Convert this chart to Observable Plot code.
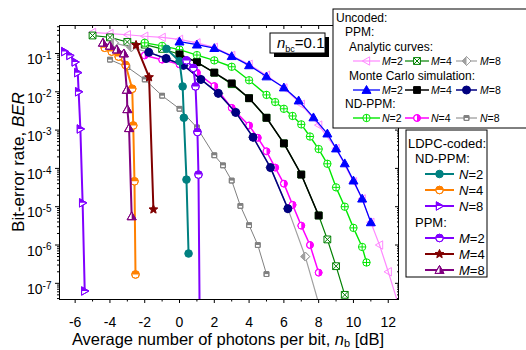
<!DOCTYPE html>
<html><head><meta charset="utf-8">
<script src="https://cdn.jsdelivr.net/npm/d3@7"></script>
<script src="https://cdn.jsdelivr.net/npm/@observablehq/plot@0.6"></script>
<style>body{margin:0;background:#fff} svg{display:block}</style>
</head><body><div id="chart"></div>
<script>
// ---------- data (x: average photons per bit in dB, ber: bit-error rate) ----------
// Uncoded PPM, analytic curves
const anaM2_x = [-5,-4,-3,-2,-1,0,1,2,3,4,5,6,7,8,9,10,10.5,11,11.5,12,12.75];
const anaM2_ber = [0.355,0.331,0.309,0.282,0.263,0.234,0.19,0.145,0.089,0.052,0.027,0.0126,4.7e-3,1.35e-3,3.3e-4,4.5e-5,1.6e-5,3.9e-6,1.0e-6,2.0e-7,1.6e-8];
const anaM4_x = [-5,-4,-3,-2,-1,0,1,2,3,4,5,6,7,8,8.5,9,9.5];
const anaM4_ber = [0.295,0.263,0.2,0.17,0.132,0.0955,0.06,0.0316,0.0158,6.8e-3,2.1e-3,4.5e-4,6.9e-5,5.9e-6,1.4e-6,2.8e-7,5.0e-8];
const anaM8_x = [-3.77,-2.77,-1.77,-0.77,0.23,1.23,2.23,3.23,4.23,5.23,6.23,7.23,8.23];
const anaM8_ber = [0.19,0.145,0.107,0.074,0.049,0.021,9.1e-3,2.9e-3,6.5e-4,1.05e-4,8.9e-6,5.0e-7,1.3e-8];
// Uncoded PPM, Monte Carlo simulation
const mcM2_x = [0,1,2,3,4,5,6,6.85,7.7,8.5,9,9.5,10,10.5,11];
const mcM2_ber = [0.204,0.17,0.138,0.085,0.049,0.0251,0.0129,5.9e-3,2.14e-3,8.1e-4,3.3e-4,1.35e-4,4.8e-5,1.62e-5,3.9e-6];
const mcM4_x = [0,1,2,3,4,5,6,7,8];
const mcM4_ber = [0.095,0.059,0.0316,0.0166,6.8e-3,2.1e-3,4.5e-4,6.9e-5,5.9e-6];
const mcM8_x = [-1.77,-0.77,0.23,1.23,2.23,3.23,4.23,5.23,6.23];
const mcM8_ber = [0.107,0.074,0.049,0.021,9.1e-3,2.9e-3,6.5e-4,1.05e-4,8.9e-6];
// Uncoded ND-PPM
const ndN2_x = [-2,-1,0,1,2,3,4,5,5.5,6,6.5,7,7.5,8,8.5,9,9.5,10,10.5,10.75];
const ndN2_ber = [0.19,0.158,0.126,0.091,0.066,0.045,0.02,8.3e-3,5.4e-3,3.6e-3,2.34e-3,1.41e-3,6.8e-4,3.2e-4,1.32e-4,3.2e-5,1.0e-5,2.8e-6,8.9e-7,3.5e-7];
const ndN4_x = [-2,-1,0,1,2,3,4,4.5,5,5.5,6,6.5,7,7.5,8];
const ndN4_ber = [0.089,0.069,0.052,0.0316,0.0141,3.8e-3,1.32e-3,6.3e-4,2.8e-4,1.05e-4,4.0e-5,1.12e-5,3.2e-6,1.0e-6,1.9e-7];
const ndN8_x = [-4,-3,-2,-1,0,1,2,2.5,3,3.5,4,4.5,5];
const ndN8_ber = [0.069,0.044,0.021,7.9e-3,3.6e-3,1.17e-3,2.2e-4,1.2e-4,4.8e-5,1.05e-5,3.3e-6,1.0e-6,1.74e-7];
// LDPC-coded ND-PPM
const ldN2_x = [-0.75,0,0.18,0.25,0.4,0.52];
const ldN2_ber = [0.132,0.063,0.0138,2.1e-3,5.1e-5,6.0e-7];
const ldN4_x = [-4.3,-3.9,-3.5,-3.1,-2.72,-2.66,-2.59,-2.53];
const ldN4_ber = [0.141,0.112,0.083,0.05,0.012,1.32e-3,4.6e-5,1.7e-7];
const ldN8_x = [-6.6,-6.3,-6.0,-5.85,-5.8,-5.7,-5.57,-5.45];
const ldN8_ber = [0.112,0.089,0.06,0.0316,0.01,1.07e-3,1.26e-5,6.3e-8];
// LDPC-coded PPM
const ldM2_x = [0.4,0.8,0.92,1.03,1.09,1.16];
const ldM2_ber = [0.066,0.042,0.0138,8.9e-4,6.9e-5,1e-8];
const ldM4_x = [-2.5,-1.75,-1.5];
const ldM4_ber = [0.166,0.024,8.5e-6];
const ldM8_x = [-4.4,-4.0,-3.6,-3.2,-3.03,-3.0,-2.9,-2.75];
const ldM8_ber = [0.19,0.158,0.126,0.1,0.0112,3.5e-3,1.12e-3,5.6e-6];

// axis ticks
const xMajor = [-6,-4,-2,0,2,4,6,8,10,12];
const xMinor = [-5,-3,-1,1,3,5,7,9,11];
const yMajor = [1e-7,1e-6,1e-5,1e-4,1e-3,1e-2,1e-1];
const yMinorMult = [2,3,4,5,6,7,8,9];
const yDecades = [1e-8,1e-7,1e-6,1e-5,1e-4,1e-3,1e-2,1e-1];

// ---------- symbols ----------
const S = f => ({draw(c, size){ f(c, Math.sqrt(size/Math.PI)); }});
const circle = S((c,r)=>{c.moveTo(r,0); c.arc(0,0,r,0,2*Math.PI); c.closePath();});
const circTop = S((c,r)=>{c.moveTo(r,0); c.arc(0,0,r,0,Math.PI,true); c.closePath();});
const circRight = S((c,r)=>{c.moveTo(0,-r); c.arc(0,0,r,-Math.PI/2,Math.PI/2,false); c.closePath();});
const plusIn = S((c,r)=>{c.moveTo(-r,0);c.lineTo(r,0);c.moveTo(0,-r);c.lineTo(0,r);});
const square = S((c,r)=>{const s=r*0.85; c.moveTo(-s,-s);c.lineTo(s,-s);c.lineTo(s,s);c.lineTo(-s,s);c.closePath();});
const sqTop = S((c,r)=>{const s=r*0.85; c.moveTo(-s,-s);c.lineTo(s,-s);c.lineTo(s,0);c.lineTo(-s,0);c.closePath();});
const xIn = S((c,r)=>{const s=r*0.85; c.moveTo(-s,-s);c.lineTo(s,s);c.moveTo(s,-s);c.lineTo(-s,s);});
const diamond = S((c,r)=>{c.moveTo(0,-r);c.lineTo(r,0);c.lineTo(0,r);c.lineTo(-r,0);c.closePath();});
const diamLeft = S((c,r)=>{c.moveTo(0,-r);c.lineTo(-r,0);c.lineTo(0,r);c.closePath();});
const triUp = S((c,r)=>{c.moveTo(0,-r);c.lineTo(r,r*0.75);c.lineTo(-r,r*0.75);c.closePath();});
const triUpRight = S((c,r)=>{c.moveTo(0,-r);c.lineTo(r,r*0.75);c.lineTo(0,r*0.75);c.closePath();});
const triLeft = S((c,r)=>{c.moveTo(-r,0);c.lineTo(r*0.75,-r);c.lineTo(r*0.75,r);c.closePath();});
const triRight = S((c,r)=>{c.moveTo(r,0);c.lineTo(-r*0.75,-r);c.lineTo(-r*0.75,r);c.closePath();});
const triRightTop = S((c,r)=>{c.moveTo(r,0);c.lineTo(-r*0.75,-r);c.lineTo(-r*0.75,0);c.closePath();});
const star = S((c,r)=>{for(let i=0;i<10;i++){const a=-Math.PI/2+i*Math.PI/5, rr=i%2?r*0.45:r; const px=rr*Math.cos(a), py=rr*Math.sin(a); i?c.lineTo(px,py):c.moveTo(px,py);} c.closePath();});

// ---------- series (style kept separate from data) ----------
const series = [
  {x:anaM2_x, y:anaM2_ber, color:"#ff88ff", w:1.2, m:{shape:triLeft, fill:"none", r:4.2}},
  {x:anaM4_x, y:anaM4_ber, color:"#008000", w:1.2, m:{shape:square, fill:"white", inner:xIn, r:4}},
  {x:anaM8_x, y:anaM8_ber, color:"#a0a0a0", w:1.2, m:{shape:diamond, fill:"white", half:diamLeft, r:4.5}},
  {x:ndN2_x, y:ndN2_ber, color:"#00e800", w:1.4, m:{shape:circle, fill:"white", inner:plusIn, r:3.7}},
  {x:ndN4_x, y:ndN4_ber, color:"#ff00ff", w:1.5, m:{shape:circle, fill:"white", half:circRight, r:3.4}},
  {x:ndN8_x, y:ndN8_ber, color:"#808080", w:1, m:{shape:square, fill:"white", half:sqTop, r:2.8}},
  {x:mcM2_x, y:mcM2_ber, color:"#0000ff", w:1.3, m:{shape:triUp, fill:"color", r:4.5}},
  {x:mcM4_x, y:mcM4_ber, color:"#000000", w:1.5, m:{shape:square, fill:"color", r:4}},
  {x:mcM8_x, y:mcM8_ber, color:"#000080", w:1.5, m:{shape:circle, fill:"color", r:4}},
  {x:ldN2_x, y:ldN2_ber, color:"#008080", w:2, m:{shape:circle, fill:"color", r:3.8}},
  {x:ldN4_x, y:ldN4_ber, color:"#ff8000", w:2, m:{shape:circle, fill:"white", half:circTop, r:3.8}},
  {x:ldN8_x, y:ldN8_ber, color:"#8000ff", w:2, m:{shape:triRight, fill:"white", half:triRightTop, r:4.2}},
  {x:ldM2_x, y:ldM2_ber, color:"#8000ff", w:2, m:{shape:circle, fill:"white", half:circTop, r:3.8}},
  {x:ldM4_x, y:ldM4_ber, color:"#800000", w:2, m:{shape:star, fill:"color", r:4.6}},
  {x:ldM8_x, y:ldM8_ber, color:"#800080", w:2, m:{shape:triUp, fill:"white", half:triUpRight, r:4.5}}
];

function markerMarks(rows, m, color){
  const out = [];
  const base = {x:"x", y:"y", symbol:m.shape, r:m.r, clip:true};
  out.push(Plot.dot(rows, {...base, fill: m.fill==="color"?color:m.fill, stroke:color, strokeWidth:1}));
  if (m.half) out.push(Plot.dot(rows, {...base, symbol:m.half, fill:color, stroke:"none"}));
  if (m.inner) out.push(Plot.dot(rows, {...base, symbol:m.inner, fill:"none", stroke:color, strokeWidth:1}));
  if (m.half) out.push(Plot.dot(rows, {...base, fill:"none", stroke:color, strokeWidth:1}));
  return out;
}

const yMinor = [];
yDecades.forEach(d => yMinorMult.forEach(k => yMinor.push(d*k)));
const yMinorIn = yMinor.filter(v => v > 3.78e-8 && v < 0.538);

const marks = [];
series.forEach(s => {
  const rows = s.x.map((x,i) => ({x, y:s.y[i]}));
  marks.push(Plot.line(rows, {x:"x", y:"y", stroke:s.color, strokeWidth:s.w, clip:true}));
  marks.push(...markerMarks(rows, s.m, s.color));
});

const plot = Plot.plot({
  width: 526, height: 350,
  marginLeft: 59, marginRight: 128, marginTop: 25, marginBottom: 51,
  x: {domain: [-6.9, 12.59], label: null},
  y: {type: "log", domain: [3.78e-8, 0.538], label: null},
  style: {fontFamily: "'Liberation Sans', Arial, sans-serif", fontSize: "14px", background: "white", color: "black"},
  marks: [
    ...marks,
    Plot.frame({stroke: "black", strokeWidth: 1}),
    Plot.axisX(xMajor, {anchor: "bottom", tickSize: 4, tickPadding: 14, fontSize: 14, tickFormat: d => String(d), label: null}),
    Plot.axisX(xMinor, {anchor: "bottom", tickSize: 2.5, tickFormat: () => "", label: null}),
    Plot.axisX(xMajor, {anchor: "top", tickSize: 3, dy: 3, tickFormat: () => "", label: null}),
    Plot.axisX(xMinor, {anchor: "top", tickSize: 2, dy: 2, tickFormat: () => "", label: null}),
    Plot.axisY(yMajor, {anchor: "left", tickSize: 4, tickPadding: 4, fontSize: 14, tickFormat: d => String(Math.round(Math.log10(d))), label: null}),
    Plot.axisY(yMinorIn, {anchor: "left", tickSize: 2, tickFormat: () => "", label: null}),
    Plot.axisY(yMajor, {anchor: "right", tickSize: 4, dx: -4, tickFormat: () => "", label: null}),
    Plot.axisY(yMinorIn, {anchor: "right", tickSize: 2, dx: -2, tickFormat: () => "", label: null})
  ]
});
document.getElementById("chart").appendChild(plot);

const svg = d3.select(plot);
// superscript exponents for y tick labels
svg.selectAll('g[aria-label="y-axis tick label"] text').each(function(){
  const t = d3.select(this); const e = t.text();
  if (!e) return;
  t.text(""); t.attr("dy", "0.45em");
  t.append("tspan").text("10");
  t.append("tspan").attr("dy", "-0.55em").attr("font-size", "10px").text(e);
});

const FONT = "'Liberation Sans', Arial, sans-serif";
const ov = svg.append("g").attr("font-family", FONT).attr("fill", "black").attr("text-anchor", "start");

// axis titles
const xt = ov.append("text").attr("x", 228).attr("y", 344.5).attr("text-anchor", "middle").attr("font-size", 16.5);
xt.append("tspan").text("Average number of photons per bit, ");
xt.append("tspan").attr("font-style", "italic").text("n");
xt.append("tspan").attr("font-size", 11).attr("dy", 2.5).text("b");
xt.append("tspan").attr("dy", -2.5).text(" [dB]");
const yt = ov.append("text").attr("transform", "translate(23.5,162) rotate(-90)").attr("text-anchor", "middle").attr("font-size", 17);
yt.append("tspan").text("Bit-error rate, ");
yt.append("tspan").attr("font-style", "italic").text("BER");

// n_bc annotation
ov.append("rect").attr("x", 274).attr("y", 37).attr("width", 55).attr("height", 20).attr("fill", "black");
ov.append("rect").attr("x", 270).attr("y", 33).attr("width", 55).attr("height", 20).attr("fill", "white").attr("stroke", "black");
const nt = ov.append("text").attr("x", 277).attr("y", 48).attr("font-size", 15);
nt.append("tspan").attr("font-style", "italic").text("n");
nt.append("tspan").attr("font-size", 9).attr("dy", 4).text("bc");
nt.append("tspan").attr("dy", -4).text("=0.1");

// legend helpers
function drawMarker(g, cx, cy, m, color){
  const p = (sym, fill, stroke) => g.append("path").attr("transform", `translate(${cx},${cy})`)
    .attr("d", d3.symbol(sym, m.r*m.r*Math.PI)()).attr("fill", fill).attr("stroke", stroke).attr("stroke-width", 1);
  p(m.shape, m.fill==="color"?color:m.fill, color);
  if (m.half) p(m.half, color, "none");
  if (m.inner) p(m.inner, "none", color);
  if (m.half) p(m.shape, "none", color);
}
function entry(g, s, x1, x2, y, tx, v, n, fs){
  g.append("line").attr("x1", x1).attr("x2", x2).attr("y1", y).attr("y2", y).attr("stroke", s.color).attr("stroke-width", s.w);
  drawMarker(g, (x1+x2)/2, y, s.m, s.color);
  const t = g.append("text").attr("x", tx).attr("y", y + fs*0.36).attr("font-size", fs);
  t.append("tspan").attr("font-style", "italic").text(v);
  t.append("tspan").text("=" + n);
}
function label(g, x, y, txt, fs){ g.append("text").attr("x", x).attr("y", y + fs*0.36).attr("font-size", fs).text(txt); }

// legend 1 (uncoded)
const L1 = ov.append("g");
L1.append("rect").attr("x", 333).attr("y", 9).attr("width", 200).attr("height", 119).attr("fill", "white").attr("stroke", "black");
label(L1, 336, 18, "Uncoded:", 12);
label(L1, 345, 32, "PPM:", 12);
label(L1, 349, 47, "Analytic curves:", 12);
entry(L1, series[0], 353, 380, 61, 382, "M", 2, 10.5);
entry(L1, series[1], 405, 429, 61, 431, "M", 4, 10.5);
entry(L1, series[2], 456, 477, 61, 480, "M", 8, 10.5);
label(L1, 349, 76, "Monte Carlo simulation:", 12);
entry(L1, series[6], 353, 380, 90, 382, "M", 2, 10.5);
entry(L1, series[7], 405, 429, 90, 431, "M", 4, 10.5);
entry(L1, series[8], 456, 477, 90, 480, "M", 8, 10.5);
label(L1, 345, 104, "ND-PPM:", 12);
entry(L1, series[3], 353, 380, 118, 382, "N", 2, 10.5);
entry(L1, series[4], 405, 429, 118, 431, "N", 4, 10.5);
entry(L1, series[5], 456, 477, 118, 480, "N", 8, 10.5);

// legend 2 (LDPC-coded)
const L2 = ov.append("g");
L2.append("rect").attr("x", 406).attr("y", 130).attr("width", 81).attr("height", 147).attr("fill", "white").attr("stroke", "black");
label(L2, 408, 143, "LDPC-coded:", 13);
label(L2, 415, 158, "ND-PPM:", 13);
entry(L2, series[9], 425, 454, 174, 459, "N", 2, 13);
entry(L2, series[10], 425, 454, 190, 459, "N", 4, 13);
entry(L2, series[11], 425, 454, 206, 459, "N", 8, 13);
label(L2, 415, 222, "PPM:", 13);
entry(L2, series[12], 425, 454, 238, 459, "M", 2, 13);
entry(L2, series[13], 425, 454, 254, 459, "M", 4, 13);
entry(L2, series[14], 425, 454, 270, 459, "M", 8, 13);
</script>
</body></html>
